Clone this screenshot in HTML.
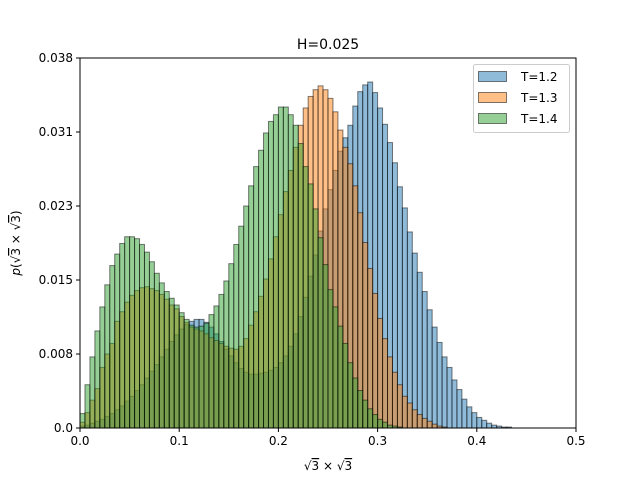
<!DOCTYPE html>
<html><head><meta charset="utf-8">
<style>
html,body{margin:0;padding:0;background:#fff;}
svg{display:block;font-family:"DejaVu Sans","Liberation Sans",sans-serif;}
</style></head>
<body>
<svg id="chart" width="640" height="480" viewBox="0 0 640 480">
<rect x="0" y="0" width="640" height="480" fill="#fff"/>
<g id="bars"></g>
<g id="axes"></g>
<text x="328" y="49" text-anchor="middle" font-size="14">H=0.025</text>
<text x="328" y="470" text-anchor="middle" font-size="12">√<tspan text-decoration="overline">3</tspan> × √<tspan text-decoration="overline">3</tspan></text>
<text transform="translate(20,243) rotate(-90)" text-anchor="middle" font-size="12"><tspan font-style="italic">p</tspan>(√<tspan text-decoration="overline">3</tspan> × √<tspan text-decoration="overline">3</tspan>)</text>
<g>
<rect x="473.5" y="64.5" width="96" height="68" rx="2" fill="#fff" fill-opacity="0.8" stroke="#ccc"/>
<g><rect x="478.5" y="71.5" width="28" height="10" fill="#1f77b4" fill-opacity="0.5" stroke="#000" stroke-opacity="0.5"/><text x="521" y="81" font-size="12">T=1.2</text></g>
<g><rect x="478.5" y="92.5" width="28" height="10" fill="#ff7f0e" fill-opacity="0.5" stroke="#000" stroke-opacity="0.5"/><text x="521" y="102" font-size="12">T=1.3</text></g>
<g><rect x="478.5" y="113.5" width="28" height="10" fill="#2ca02c" fill-opacity="0.5" stroke="#000" stroke-opacity="0.5"/><text x="521" y="123" font-size="12">T=1.4</text></g>
</g>
</svg>
<script>
const binWidth = 0.005;
const xTicks = [0, 0.1, 0.2, 0.3, 0.4, 0.5];
const xTickLabels = ["0.0", "0.1", "0.2", "0.3", "0.4", "0.5"];
const yTicks = [0, 0.0077, 0.0154, 0.0231, 0.0308, 0.0385];
const yTickLabels = ["0.0", "0.008", "0.015", "0.023", "0.031", "0.038"];
const seriesNames = ["T=1.2", "T=1.3", "T=1.4"];
const blueT12 = [0.0002,0.0003,0.0005,0.0007,0.0009,0.0012,0.0015,0.0019,0.0023,0.0028,0.0033,0.0039,0.0045,0.0052,0.0059,0.0066,0.0074,0.0082,0.009,0.0097,0.0103,0.0108,0.0111,0.0113,0.0113,0.011,0.0105,0.0098,0.009,0.0082,0.0075,0.0068,0.0062,0.0058,0.0056,0.0056,0.0057,0.0058,0.006,0.0063,0.0068,0.0075,0.0085,0.0098,0.0116,0.0136,0.0158,0.018,0.0205,0.0228,0.0248,0.0268,0.0288,0.0302,0.0315,0.0335,0.035,0.0357,0.036,0.0349,0.0333,0.0316,0.0297,0.0276,0.0251,0.0229,0.0204,0.0182,0.0162,0.0142,0.0123,0.0105,0.0089,0.0074,0.0063,0.005,0.004,0.003,0.0022,0.0016,0.0011,0.0008,0.0005,0.0003,0.0002,0.0001,0.0001,0,0,0,0,0,0,0,0,0,0,0,0,0];
const orangeT13 = [0.0006,0.0016,0.0029,0.0041,0.0063,0.0077,0.0088,0.0111,0.0121,0.0131,0.0138,0.0143,0.0146,0.0147,0.0145,0.0143,0.0139,0.0134,0.0128,0.0124,0.0116,0.011,0.0105,0.0103,0.0101,0.0098,0.0094,0.0091,0.0088,0.0085,0.0083,0.0082,0.0085,0.0093,0.0107,0.0121,0.0137,0.0155,0.0176,0.0199,0.0222,0.0246,0.0268,0.0292,0.0315,0.0333,0.0345,0.0352,0.0356,0.0352,0.0343,0.0329,0.031,0.0292,0.0275,0.0252,0.0224,0.0193,0.0166,0.014,0.0114,0.0093,0.0074,0.0058,0.0045,0.0033,0.0026,0.0019,0.0014,0.001,0.0007,0.0004,0.0002,0.0001,0,0,0,0,0,0,0,0,0,0,0,0,0,0,0,0,0,0,0,0,0,0,0,0,0,0];
const greenT14 = [0.0015,0.0045,0.0074,0.0101,0.0126,0.0149,0.0169,0.0181,0.0192,0.0199,0.0199,0.0197,0.0191,0.0183,0.0173,0.0161,0.0151,0.0142,0.0135,0.0128,0.012,0.0113,0.0107,0.0105,0.0106,0.0109,0.0118,0.0127,0.0139,0.0153,0.0171,0.0191,0.021,0.0231,0.0252,0.0272,0.0289,0.0307,0.0319,0.0326,0.0334,0.0334,0.0326,0.0315,0.0296,0.0272,0.0254,0.0228,0.0198,0.017,0.0144,0.0126,0.0106,0.0088,0.0068,0.0052,0.0039,0.0029,0.002,0.0014,0.0009,0.0006,0.0003,0.0002,0.0001,0,0,0,0,0,0,0,0,0,0,0,0,0,0,0,0,0,0,0,0,0,0,0,0,0,0,0,0,0,0,0,0,0,0,0];
const L = 80, R = 576, T = 58, B = 428;
const xMin = 0, xMax = 0.5, yMin = 0, yMax = 0.0385;
function xs(v){ return L + (v - xMin) / (xMax - xMin) * (R - L); }
function ys(v){ return B - (v - yMin) / (yMax - yMin) * (B - T); }
const NS = "http://www.w3.org/2000/svg";
const barsG = document.getElementById('bars');
const colors = ["#1f77b4", "#ff7f0e", "#2ca02c"];
const allSeries = [blueT12, orangeT13, greenT14];
allSeries.forEach(function(arr, s){
  const g = document.createElementNS(NS, 'g');
  
  
  arr.forEach(function(v, i){
    if (v <= 0) return;
    const r = document.createElementNS(NS, 'rect');
    const x0 = xs(i * binWidth), x1 = xs((i + 1) * binWidth);
    r.setAttribute('x', x0);
    r.setAttribute('y', ys(v));
    r.setAttribute('width', x1 - x0);
    r.setAttribute('height', ys(0) - ys(v));
    r.setAttribute('fill', colors[s]);
    r.setAttribute('fill-opacity', '0.5');
    r.setAttribute('stroke', '#000');
    r.setAttribute('stroke-opacity', '0.5');
    r.setAttribute('stroke-width', '1');
    
    
    g.appendChild(r);
  });
  barsG.appendChild(g);
});
const ax = document.getElementById('axes');
const frame = document.createElementNS(NS, 'rect');
frame.setAttribute('x', L); frame.setAttribute('y', T);
frame.setAttribute('width', R - L); frame.setAttribute('height', B - T);
frame.setAttribute('fill', 'none'); frame.setAttribute('stroke', '#000'); frame.setAttribute('stroke-width', '1');


ax.appendChild(frame);
xTicks.forEach(function(v, i){
  const x = xs(v);
  const t = document.createElementNS(NS, 'line');
  t.setAttribute('x1', x); t.setAttribute('x2', x); t.setAttribute('y1', B); t.setAttribute('y2', B + 4);
  t.setAttribute('stroke', '#000');
  
  
  ax.appendChild(t);
  const tx = document.createElementNS(NS, 'text');
  tx.setAttribute('x', x); tx.setAttribute('y', B + 17);
  tx.setAttribute('text-anchor', 'middle'); tx.setAttribute('font-size', '12');
  tx.textContent = xTickLabels[i];
  
  
  ax.appendChild(tx);
});
yTicks.forEach(function(v, i){
  const y = ys(v);
  const t = document.createElementNS(NS, 'line');
  t.setAttribute('x1', L - 4); t.setAttribute('x2', L); t.setAttribute('y1', y); t.setAttribute('y2', y);
  t.setAttribute('stroke', '#000');
  
  
  ax.appendChild(t);
  const tx = document.createElementNS(NS, 'text');
  tx.setAttribute('x', L - 7); tx.setAttribute('y', y + 4);
  tx.setAttribute('text-anchor', 'end'); tx.setAttribute('font-size', '12');
  tx.textContent = yTickLabels[i];
  
  
  ax.appendChild(tx);
});
</script>
</body></html>
